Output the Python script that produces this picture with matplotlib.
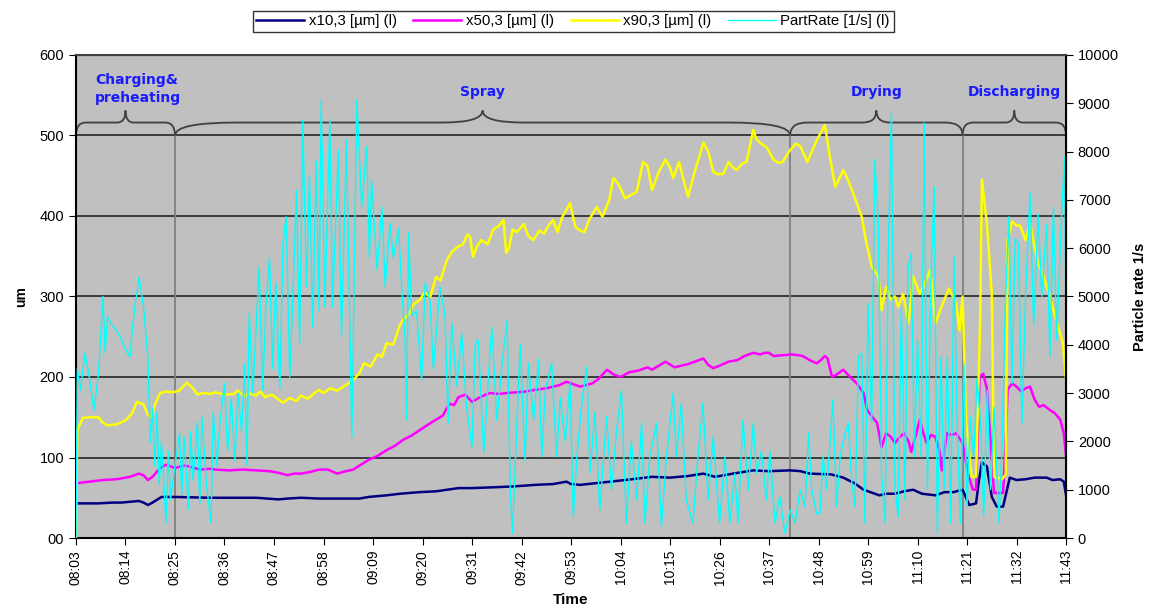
import numpy as np
import matplotlib.pyplot as plt
from matplotlib.path import Path
from matplotlib.patches import PathPatch

# minutes after 08:03
x90_min = [0, 0.3, 1.5, 3, 5, 6, 7, 9, 11, 12.5, 13.5, 15, 16, 16.8, 17.5, 18.7, 20, 21.5, 23, 24.6,
           26, 27, 28, 30, 31, 33, 35, 36, 37.5, 38.5, 40, 41, 42, 43.5, 45, 46, 47.5, 49, 50, 51.5,
           53, 54, 55, 56.5, 58, 60, 61.6, 63, 64, 65.5, 67, 68, 69, 70.5, 72, 72.7, 74, 75, 76.4, 77.5,
           78.7, 80, 81, 82.4, 83.5, 84.6, 86, 87, 87.6, 88.2, 89, 90, 91.5, 92.7, 94, 95, 95.6, 96.2, 97, 98,
           99.5, 100.5, 101.6, 103, 104, 105, 106, 107, 108, 109.8, 110.6, 111, 112, 113, 114, 115.7, 117,
           118.5, 119.4, 120.5, 122, 123, 124.6, 126, 127, 128, 129.5, 131, 132, 132.7, 134, 135, 136,
           137.5, 139.4, 140.5, 141.6, 142.5, 143.8, 145, 146, 146.8, 148, 149, 150.5, 151.2, 152, 153.5,
           155, 156, 157, 158, 158.7, 160, 161, 162.5, 163.5, 164.6, 166.4, 167.5, 168.7, 169.5, 170.5,
           171.5, 172.7, 174.6, 175.5, 176.8, 178.3, 179, 180, 181, 182, 182.7, 183.8, 185, 186, 187.5,
           188.5, 189.8, 191, 192.6, 194, 195.6, 196.3, 197, 197.8, 199, 200, 200.9, 201.3, 202.4, 203.5,
           204, 205.8, 206.6, 207, 208, 209, 209.8, 211, 212, 213, 213.8, 215, 216.4, 218, 219.3, 220]
x90 = [0, 134, 149, 150, 150, 143, 140, 141, 146, 155, 169, 166, 153, 150, 165, 180, 182, 181, 183, 193,
       186, 178, 180, 179, 181, 178, 179, 183, 176, 180, 177, 182, 175, 178, 172, 168, 174, 170, 177, 173,
       180, 184, 180, 186, 183, 190, 196, 205, 217, 213, 228, 225, 242, 240, 265, 271, 278, 290, 296, 305,
       299, 324, 320, 345, 355, 361, 365, 377, 374, 349, 361, 370, 365, 383, 388, 395, 354, 360, 383, 380,
       390, 375, 370, 382, 378, 388, 395, 380, 398, 416, 395, 386, 382, 380, 395, 411, 399,
       420, 447, 440, 422, 425, 430, 467, 462, 432, 455, 470, 460, 447, 467, 445, 424,
       455, 491, 480, 455, 452, 452, 467, 460, 457, 465, 467, 507, 495, 491, 485,
       470, 466, 467, 476, 482, 490, 486, 467, 480, 494, 513, 474, 436, 445, 457,
       445, 428, 399, 370, 337, 325, 283, 312, 296, 300, 287, 303, 267, 325, 303,
       315, 333, 267, 291, 310, 291, 258, 300, 143, 76, 76, 267, 445, 391, 303,
       76, 73, 79, 370, 393, 388, 388, 370, 391, 361, 341, 325, 300, 267, 242, 196]

x50_min = [0, 3, 6, 9, 12, 14, 15, 16, 17, 18.7, 20, 21, 22, 24, 25, 27.6, 30, 31, 34, 37, 40, 43, 45,
           47, 48.5, 50, 52, 54, 56, 58, 60, 61.6, 63, 65, 67, 69, 71, 72.7, 74.5, 76.4, 78, 80, 81.5, 83,
           84, 85, 86.5, 88, 89.5, 91, 92, 94, 95.7, 98, 100, 102, 104.6, 106, 107.5, 109, 110, 112, 114.7,
           116, 118, 119.5, 121, 123, 125, 127, 128, 129.5, 131, 133, 134.5, 136, 137.5, 139.4, 140.5, 141.6,
           143, 145, 147, 148.5, 150.5, 152, 153, 154, 155, 157, 159, 160.5, 161.5, 163, 164.6, 165.5, 166.4,
           167, 168, 169, 170.5, 172, 173.5, 175, 175.8, 177, 178, 179, 180, 181, 182, 183, 184, 185, 185.6,
           186.5, 187.5, 188.3, 189, 190, 190.9, 191.8, 192.4, 193.5, 194.5, 195.6, 197, 198.2, 199.3, 200,
           200.8, 201.6, 202.4, 203.2, 204, 206, 206.6, 207, 208, 209, 210, 211, 212, 213, 214, 215, 216.4,
           217.5, 218.7, 219.5, 220]
x50 = [68, 70, 72, 73, 76, 80, 78, 72, 76, 87, 91, 89, 87, 90, 89, 85, 86, 85, 84, 85, 84, 83, 81,
       78, 80, 80, 82, 85, 85, 80, 83, 85, 90, 97, 102, 109, 115, 122, 127, 134, 140, 147, 152, 167,
       165, 175, 178, 169, 174, 178, 180, 179, 180, 181, 182, 184, 186, 188, 190, 194, 192, 188, 192,
       197, 209, 203, 200, 206, 208, 212, 209, 214, 219, 212, 214, 216, 219, 223, 215, 211,
       214, 219, 221, 226, 230, 228, 230, 230, 226, 227, 228, 227, 226, 221, 217, 221, 226,
       223, 200, 203, 209, 200, 192, 180, 159, 150, 143, 113, 130, 126, 118, 125, 130, 120, 107,
       125, 147, 130, 118, 128, 126, 110, 84, 130, 128, 130, 118, 80, 60, 60,
       200, 204, 186, 120, 56, 56, 120, 184, 192, 188, 182, 186, 188, 172, 163, 165, 159,
       155, 147, 130, 101]

x10_min = [0, 5, 8, 10, 12, 14, 15, 16, 17, 19, 22, 30, 40, 45, 47, 50, 54, 58, 63, 65, 69, 72, 76.4,
           80, 85, 88, 92.7, 97, 102, 106, 109, 110, 112, 117, 122, 128, 132, 136, 139.4, 142, 146, 150.5,
           154, 158.7, 161, 163, 167.8, 170.5, 173, 175, 177, 178.5, 180, 182, 184, 186, 188, 191, 193,
           195, 197, 198.5, 200, 200.6, 201.3, 202.4, 203.5, 204.6, 206, 207.5, 209, 211, 213, 215.7, 217,
           218.7, 219.5, 220]
x10 = [43, 43, 44, 44, 45, 46, 44, 41, 44, 51, 51, 50, 50, 48, 49, 50, 49, 49, 49, 51, 53, 55, 57,
       58, 62, 62, 63, 64, 66, 67, 70, 67, 66, 69, 72, 76, 75, 77, 80, 76, 80, 84,
       83, 84, 83, 80, 79, 75, 68, 60, 56, 53, 55, 55, 58, 60, 55, 53, 57,
       57, 60, 41, 43, 70, 94, 89, 51, 39, 39, 75, 72, 73, 75, 75, 72,
       73, 70, 53]

rate_min = [0, 0.3, 1, 2, 3, 4, 5, 6, 6.5, 7, 8, 9, 10, 11, 12, 12.5, 13, 14, 15, 16, 16.5, 17, 17.5,
            18, 18.5, 19, 20, 20.5, 21, 22, 23, 23.5, 24, 25, 25.5, 26, 27, 27.5, 28, 29, 30, 30.5, 31.3,
            32, 33, 33.7, 34.5, 35.3, 36, 36.8, 37.5, 38, 38.5, 39.3, 40, 40.7, 41.5, 42.2, 43, 43.7, 44.4,
            45.3, 46, 46.7, 47.5, 48.2, 49, 49.7, 50.4, 51.2, 51.9, 52.6, 53.4, 54, 54.5, 55.3, 56.4, 57,
            58.3, 59, 60.1, 61.3, 62.4, 63.5, 64.6, 65.2, 65.7, 66.9, 68, 68.7, 69.8, 70.5, 71.7, 72.4,
            73.1, 73.5, 73.9, 74.6, 75.7, 76.8, 77.6, 78.7, 79.4, 80.9, 82, 82.7, 83.5, 84.6, 85.7, 86.8,
            88, 88.7, 89.4, 90.6, 91.7, 92.4, 93.5, 94.6, 95.8, 96.5, 97, 98, 98.7, 99.8, 100.5, 101.7,
            102.8, 103.5, 104.3, 105.7, 106.8, 107.6, 108.7, 109.4, 109.8, 110.5, 111.3, 112.4, 113.5,
            114.2, 115.3, 116.4, 117.9, 119, 120.1, 121.2, 122.3, 123.4, 124.6, 125.7, 126.4, 127.5, 129,
            130.1, 131.2, 132.7, 133.4, 134.5, 135.6, 137.1, 138.2, 139.3, 140.5, 141.6, 143, 144.2, 145.3,
            146.4, 147.1, 148.2, 149.4, 150.5, 151.2, 152.3, 153.4, 154.2, 155.3, 156.4, 157.5, 158.7,
            159.8, 160.9, 162, 162.8, 163.5, 164.6, 165.3, 166, 166.8, 168.2, 169, 169.8, 170.5, 171.6,
            172.4, 173.1, 173.9, 174.6, 175.3, 176, 176.8, 177.5, 178.3, 179, 179.8, 180.5, 181.2, 182,
            182.7, 183.4, 184.2, 184.9, 185.6, 186.3, 187, 187.8, 188.5, 189.2, 190, 190.7, 191.4, 192.2,
            192.9, 193.6, 194.4, 195.1, 195.8, 196.5, 197.3, 198, 198.7, 199.5, 200.2, 201, 201.7, 202.5,
            203.2, 204, 205.1, 205.8, 206.5, 207.3, 208, 208.7, 209.4, 210.2, 211, 212, 212.8, 213.8,
            214.6, 215.7, 216.4, 217.2, 217.9, 219, 219.7, 220]
rate = [0, 3500, 3060, 3830, 3300, 2650, 3400, 5000, 3830, 4580, 4400, 4300, 4130, 3900, 3750, 4300, 4720,
        5400, 4800, 3700, 1970, 2700, 1500, 2600, 1100, 2000, 310, 1800, 800, 1500, 2170, 900, 2100, 600,
        2200, 1200, 2400, 700, 2500, 1100, 310, 2600, 1500, 2400, 3200, 1800, 2900, 1600, 3000, 2200,
        3600, 1500, 4650, 3000, 4300, 5600, 3060, 4800, 5800, 3500, 5300, 3100, 6100, 6650, 3330, 5000,
        7200, 4000, 8650, 5200, 7500, 4370, 7800, 4700, 9070, 4780, 8650, 4780, 8030, 4160, 8240, 2090,
        9070, 6850, 8100, 5800, 7400, 5550, 6850, 5200, 6520, 5800, 6400, 5130, 4200, 2440, 6310, 4600,
        4700, 3270, 5280, 4900, 3500, 5200, 4600, 2380, 4450, 3150, 4240, 2700, 1880, 4000, 4100, 1760,
        3400, 4370, 2440, 3540, 4510, 990, 100, 2440, 4000, 1600, 3620, 2440, 3700, 1680, 3060, 3620,
        1680, 2900, 2000, 2800, 3210, 440, 1680, 2790, 3540, 1340, 2600, 580, 2510, 1000, 2200, 3060,
        310, 2000, 790, 2380, 310, 1680, 2380, 240, 1680, 3000, 1680, 2790, 790, 310, 1680, 2790, 790,
        2100, 310, 1680, 310, 1340, 310, 2440, 1000, 2380, 1340, 1800, 790, 1800, 310, 860, 100, 580,
        310, 1000, 650, 2170, 1000, 500, 520, 1680, 1000, 2860, 650, 1680, 2000, 2380, 1150, 650, 3750,
        3830, 310, 4860, 2380, 7830, 6500, 1340, 310, 5960, 8800, 1000, 440, 4780, 790, 5600, 5900,
        1680, 4100, 1680, 8590, 1000, 5500, 7270, 100, 3750, 1000, 3750, 310, 5820, 2380, 310, 3600,
        650, 2500, 1680, 3300, 2380, 440, 3060, 1000, 2700, 310, 2000, 4780, 6650, 3200, 6200, 6100,
        2380, 5000, 7140, 4400, 6700, 5000, 6500, 3750, 6850, 4100, 6700, 7900, 3800]

phase_names = ['Charging&\npreheating', 'Spray', 'Drying', 'Discharging']
phase_edges = [0, 22, 158.7, 197, 220]

start = 8 * 60 + 3
tick_min = list(range(0, 221, 11))
tick_lbl = ['%02d:%02d' % ((start + m) // 60, (start + m) % 60) for m in tick_min]

plt.rcParams['font.family'] = ['Liberation Sans', 'DejaVu Sans']

fig = plt.figure(figsize=(11.53, 6.10), dpi=100)
ax = fig.add_axes([0.0659, 0.118, 0.8587, 0.792])
ax.set_facecolor('#c0c0c0')
ax2 = ax.twinx()

ax.set_xlim(0, 220)
ax.set_ylim(0, 600)
ax2.set_ylim(0, 10000)

for v in range(100, 600, 100):
    ax.axhline(v, color='#303030', lw=1.3, zorder=1)
for e in phase_edges[1:-1]:
    ax.plot([e, e], [0, 500], color='#808080', lw=1.3, zorder=1)

l1, = ax.plot(x10_min, x10, color='#000080', lw=1.8, zorder=3, label='x10,3 [µm] (l)')
l2, = ax.plot(x50_min, x50, color='#ff00ff', lw=1.8, zorder=3, label='x50,3 [µm] (l)')
l3, = ax.plot(x90_min, x90, color='#ffff00', lw=1.8, zorder=3, label='x90,3 [µm] (l)')
l4, = ax2.plot(rate_min, rate, color='#00ffff', lw=1.0, label='PartRate [1/s] (l)')


def brace(a, b, y0=500, y1=516, y2=531):
    w = b - a
    m = (a + b) / 2
    re = 0.1 * w
    rt = min(0.08 * w, 9)
    verts = [(a, y0), (a, y1), (a + re, y1), (m - rt, y1), (m, y1), (m, y2),
             (m, y1), (m + rt, y1), (b - re, y1), (b, y1), (b, y0)]
    codes = [Path.MOVETO, Path.CURVE3, Path.CURVE3, Path.LINETO, Path.CURVE3, Path.CURVE3,
             Path.CURVE3, Path.CURVE3, Path.LINETO, Path.CURVE3, Path.CURVE3]
    ax.add_patch(PathPatch(Path(verts, codes), fill=False, ec='#404040', lw=1.3, zorder=2))


for i, name in enumerate(phase_names):
    a, b = phase_edges[i], phase_edges[i + 1]
    brace(a, b)
    if i == 0:
        ax.text(4.2, 558, name, color='#1a1aff', fontsize=10, fontweight='bold',
                family='DejaVu Sans', ha='left', va='center', linespacing=1.35)
    else:
        ax.text((a + b) / 2, 554, name, color='#1a1aff', fontsize=10, fontweight='bold',
                family='DejaVu Sans', ha='center', va='center')

ax.set_xticks(tick_min)
ax.set_xticklabels(tick_lbl, rotation=90, fontsize=10)
ax.set_yticks(range(0, 601, 100))
ax.set_yticklabels(['00', '100', '200', '300', '400', '500', '600'], fontsize=10.5)
ax2.set_yticks(range(0, 10001, 1000))
ax2.tick_params(axis='y', labelsize=10.5, direction='out', length=5, color='black')
ax.tick_params(axis='both', direction='out', length=5, color='black')

for s in ['left', 'bottom']:
    ax.spines[s].set_color('black')
    ax.spines[s].set_linewidth(1.5)
ax2.spines['right'].set_linewidth(1.5)
ax2.spines['top'].set_color('#404040')
ax2.spines['top'].set_linewidth(1.5)
ax2.spines['left'].set_visible(False)
ax2.spines['bottom'].set_visible(False)

ax.set_ylabel('um', fontsize=10, fontweight='bold', labelpad=8)
ax2.set_ylabel('Particle rate 1/s', fontsize=10.5, fontweight='bold', labelpad=10)
ax.set_xlabel('Time', fontsize=11, fontweight='bold', labelpad=6)

leg = fig.legend(handles=[l1, l2, l3, l4], loc='center', bbox_to_anchor=(0.497, 0.965), ncol=4,
                 fontsize=10.8, frameon=True, fancybox=False, edgecolor='black', handlelength=3.2,
                 columnspacing=1.1, handletextpad=0.3, borderpad=0.25)
leg.get_frame().set_linewidth(1.0)

fig.savefig('out.png', dpi=100)
